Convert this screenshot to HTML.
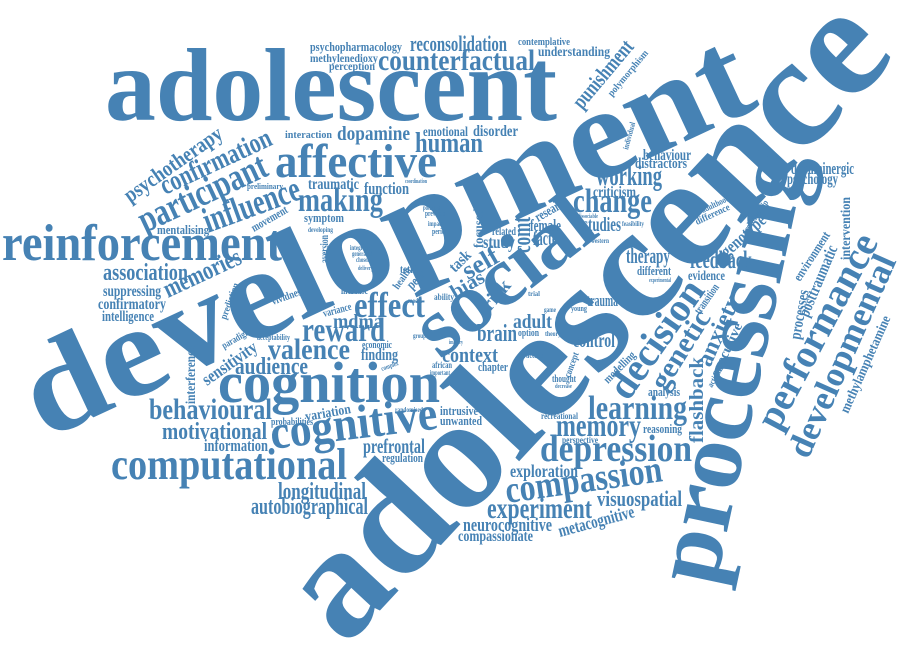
<!DOCTYPE html>
<html>
<head>
<meta charset="utf-8">
<style>
  html,body{margin:0;padding:0;background:#fff;}
  svg{display:block;}
  text{font-family:"Liberation Serif","DejaVu Serif",serif;font-weight:bold;fill:#4682b4;}
</style>
</head>
<body>
<svg width="900" height="648" viewBox="0 0 900 648" xmlns="http://www.w3.org/2000/svg">
<g>
<text transform="translate(105 120)" font-size="104" textLength="452" lengthAdjust="spacingAndGlyphs">adolescent</text>
<text transform="translate(45 440) rotate(-25)" font-size="130" textLength="790" lengthAdjust="spacingAndGlyphs">development</text>
<text transform="translate(345 648) rotate(-47)" font-size="158" textLength="810" lengthAdjust="spacingAndGlyphs">adolescence</text>
<text transform="translate(715 588) rotate(-78)" font-size="97" textLength="440" lengthAdjust="spacingAndGlyphs">processing</text>
<text transform="translate(440 360) rotate(-38)" font-size="85" textLength="205" lengthAdjust="spacingAndGlyphs">social</text>
<text transform="translate(218 402)" font-size="58" textLength="222" lengthAdjust="spacingAndGlyphs">cognition</text>
<text transform="translate(2 260)" font-size="52" textLength="280" lengthAdjust="spacingAndGlyphs">reinforcement</text>
<text transform="translate(111 479)" font-size="44" textLength="236" lengthAdjust="spacingAndGlyphs">computational</text>
<text transform="translate(275 177)" font-size="48" textLength="162" lengthAdjust="spacingAndGlyphs">affective</text>
<text transform="translate(272 449) rotate(-7)" font-size="48" textLength="168" lengthAdjust="spacingAndGlyphs">cognitive</text>
<text transform="translate(540 461)" font-size="38" textLength="152" lengthAdjust="spacingAndGlyphs">depression</text>
<text transform="translate(507 503) rotate(-8)" font-size="38" textLength="158" lengthAdjust="spacingAndGlyphs">compassion</text>
<text transform="translate(778 432) rotate(-62)" font-size="40" textLength="215" lengthAdjust="spacingAndGlyphs">performance</text>
<text transform="translate(808 460) rotate(-66)" font-size="35" textLength="218" lengthAdjust="spacingAndGlyphs">developmental</text>
<text transform="translate(628 402) rotate(-55)" font-size="40" textLength="136" lengthAdjust="spacingAndGlyphs">decision</text>
<text transform="translate(145 233) rotate(-25)" font-size="38" textLength="138" lengthAdjust="spacingAndGlyphs">participant</text>
<text transform="translate(208 233) rotate(-20)" font-size="36" textLength="101" lengthAdjust="spacingAndGlyphs">influence</text>
</g>
<g>
<text transform="translate(378 70)" font-size="30" textLength="157" lengthAdjust="spacingAndGlyphs">counterfactual</text>
<text transform="translate(410 51)" font-size="22" textLength="97" lengthAdjust="spacingAndGlyphs">reconsolidation</text>
<text transform="translate(310 51)" font-size="13" textLength="92" lengthAdjust="spacingAndGlyphs">psychopharmacology</text>
<text transform="translate(310 62)" font-size="12" textLength="68" lengthAdjust="spacingAndGlyphs">methylenedioxy</text>
<text transform="translate(329 70)" font-size="12" textLength="46" lengthAdjust="spacingAndGlyphs">perception</text>
<text transform="translate(518 45)" font-size="10" textLength="52" lengthAdjust="spacingAndGlyphs">contemplative</text>
<text transform="translate(538 56)" font-size="14" textLength="72" lengthAdjust="spacingAndGlyphs">understanding</text>
<text transform="translate(285 138)" font-size="11" textLength="47" lengthAdjust="spacingAndGlyphs">interaction</text>
<text transform="translate(337 140)" font-size="20" textLength="73" lengthAdjust="spacingAndGlyphs">dopamine</text>
<text transform="translate(423 136)" font-size="14" textLength="45" lengthAdjust="spacingAndGlyphs">emotional</text>
<text transform="translate(473 136)" font-size="16" textLength="45" lengthAdjust="spacingAndGlyphs">disorder</text>
<text transform="translate(415 152)" font-size="28" textLength="68" lengthAdjust="spacingAndGlyphs">human</text>
<text transform="translate(308 189)" font-size="16" textLength="51" lengthAdjust="spacingAndGlyphs">traumatic</text>
<text transform="translate(364 194)" font-size="17" textLength="45" lengthAdjust="spacingAndGlyphs">function</text>
<text transform="translate(298 211)" font-size="34" textLength="85" lengthAdjust="spacingAndGlyphs">making</text>
<text transform="translate(304 222)" font-size="13" textLength="40" lengthAdjust="spacingAndGlyphs">symptom</text>
<text transform="translate(247 189)" font-size="8" textLength="36" lengthAdjust="spacingAndGlyphs">preliminary</text>
<text transform="translate(157 234)" font-size="13" textLength="52" lengthAdjust="spacingAndGlyphs">mentalising</text>
<text transform="translate(103 280)" font-size="24" textLength="85" lengthAdjust="spacingAndGlyphs">association</text>
<text transform="translate(103 296)" font-size="16" textLength="58" lengthAdjust="spacingAndGlyphs">suppressing</text>
<text transform="translate(98 309)" font-size="16" textLength="68" lengthAdjust="spacingAndGlyphs">confirmatory</text>
<text transform="translate(102 321)" font-size="15" textLength="52" lengthAdjust="spacingAndGlyphs">intelligence</text>
<text transform="translate(354 317)" font-size="36" textLength="71" lengthAdjust="spacingAndGlyphs">effect</text>
<text transform="translate(333 328)" font-size="20" textLength="50" lengthAdjust="spacingAndGlyphs">mdma</text>
<text transform="translate(302 341)" font-size="34" textLength="83" lengthAdjust="spacingAndGlyphs">reward</text>
<text transform="translate(268 359)" font-size="30" textLength="82" lengthAdjust="spacingAndGlyphs">valence</text>
<text transform="translate(235 374)" font-size="24" textLength="73" lengthAdjust="spacingAndGlyphs">audience</text>
<text transform="translate(149 419)" font-size="30" textLength="123" lengthAdjust="spacingAndGlyphs">behavioural</text>
<text transform="translate(162 439)" font-size="24" textLength="105" lengthAdjust="spacingAndGlyphs">motivational</text>
<text transform="translate(204 451)" font-size="17" textLength="64" lengthAdjust="spacingAndGlyphs">information</text>
<text transform="translate(278 499)" font-size="24" textLength="88" lengthAdjust="spacingAndGlyphs">longitudinal</text>
<text transform="translate(251 514)" font-size="24" textLength="117" lengthAdjust="spacingAndGlyphs">autobiographical</text>
<text transform="translate(363 453)" font-size="21" textLength="62" lengthAdjust="spacingAndGlyphs">prefrontal</text>
<text transform="translate(382 462)" font-size="13" textLength="41" lengthAdjust="spacingAndGlyphs">regulation</text>
<text transform="translate(271 425)" font-size="11" textLength="42" lengthAdjust="spacingAndGlyphs">probabilities</text>
<text transform="translate(361 360)" font-size="17" textLength="37" lengthAdjust="spacingAndGlyphs">finding</text>
<text transform="translate(362 348)" font-size="10" textLength="30" lengthAdjust="spacingAndGlyphs">economic</text>
<text transform="translate(588 419)" font-size="34" textLength="99" lengthAdjust="spacingAndGlyphs">learning</text>
<text transform="translate(556 436)" font-size="32" textLength="85" lengthAdjust="spacingAndGlyphs">memory</text>
<text transform="translate(643 433)" font-size="13" textLength="39" lengthAdjust="spacingAndGlyphs">reasoning</text>
<text transform="translate(562 443)" font-size="9" textLength="36" lengthAdjust="spacingAndGlyphs">perspective</text>
<text transform="translate(541 419)" font-size="9" textLength="37" lengthAdjust="spacingAndGlyphs">recreational</text>
<text transform="translate(510 477)" font-size="18" textLength="68" lengthAdjust="spacingAndGlyphs">exploration</text>
<text transform="translate(487 518)" font-size="30" textLength="105" lengthAdjust="spacingAndGlyphs">experiment</text>
<text transform="translate(597 506)" font-size="22" textLength="85" lengthAdjust="spacingAndGlyphs">visuospatial</text>
<text transform="translate(463 531)" font-size="19" textLength="89" lengthAdjust="spacingAndGlyphs">neurocognitive</text>
<text transform="translate(458 541)" font-size="16" textLength="75" lengthAdjust="spacingAndGlyphs">compassionate</text>
<text transform="translate(560 537) rotate(-15)" font-size="18" textLength="78" lengthAdjust="spacingAndGlyphs">metacognitive</text>
<text transform="translate(648 396)" font-size="13" textLength="32" lengthAdjust="spacingAndGlyphs">analysis</text>
<text transform="translate(573 347)" font-size="20" textLength="42" lengthAdjust="spacingAndGlyphs">control</text>
<text transform="translate(477 341)" font-size="24" textLength="40" lengthAdjust="spacingAndGlyphs">brain</text>
<text transform="translate(442 362)" font-size="22" textLength="56" lengthAdjust="spacingAndGlyphs">context</text>
<text transform="translate(478 371)" font-size="13" textLength="30" lengthAdjust="spacingAndGlyphs">chapter</text>
<text transform="translate(518 336)" font-size="11" textLength="21" lengthAdjust="spacingAndGlyphs">option</text>
<text transform="translate(513 328)" font-size="20" textLength="39" lengthAdjust="spacingAndGlyphs">adult</text>
<text transform="translate(440 415)" font-size="13" textLength="38" lengthAdjust="spacingAndGlyphs">intrusive</text>
<text transform="translate(440 425)" font-size="13" textLength="42" lengthAdjust="spacingAndGlyphs">unwanted</text>
<text transform="translate(643 160)" font-size="16" textLength="48" lengthAdjust="spacingAndGlyphs">behaviour</text>
<text transform="translate(635 168)" font-size="15" textLength="52" lengthAdjust="spacingAndGlyphs">distractors</text>
<text transform="translate(596 185)" font-size="28" textLength="66" lengthAdjust="spacingAndGlyphs">working</text>
<text transform="translate(593 197)" font-size="16" textLength="43" lengthAdjust="spacingAndGlyphs">criticism</text>
<text transform="translate(573 212)" font-size="34" textLength="79" lengthAdjust="spacingAndGlyphs">change</text>
<text transform="translate(583 231)" font-size="20" textLength="38" lengthAdjust="spacingAndGlyphs">studies</text>
<text transform="translate(530 231)" font-size="17" textLength="31" lengthAdjust="spacingAndGlyphs">female</text>
<text transform="translate(533 245)" font-size="20" textLength="30" lengthAdjust="spacingAndGlyphs">factor</text>
<text transform="translate(483 248)" font-size="18" textLength="32" lengthAdjust="spacingAndGlyphs">study</text>
<text transform="translate(492 235)" font-size="12" textLength="24" lengthAdjust="spacingAndGlyphs">related</text>
<text transform="translate(626 263)" font-size="22" textLength="44" lengthAdjust="spacingAndGlyphs">therapy</text>
<text transform="translate(637 275)" font-size="13" textLength="34" lengthAdjust="spacingAndGlyphs">different</text>
<text transform="translate(690 268)" font-size="25" textLength="62" lengthAdjust="spacingAndGlyphs">feedback</text>
<text transform="translate(688 280)" font-size="14" textLength="37" lengthAdjust="spacingAndGlyphs">evidence</text>
<text transform="translate(791 174)" font-size="17" textLength="63" lengthAdjust="spacingAndGlyphs">dopaminergic</text>
<text transform="translate(787 184)" font-size="16" textLength="51" lengthAdjust="spacingAndGlyphs">psychology</text>
<text transform="translate(587 306)" font-size="17" textLength="31" lengthAdjust="spacingAndGlyphs">trauma</text>
<text transform="translate(571 311)" font-size="8" textLength="16" lengthAdjust="spacingAndGlyphs">young</text>
<text transform="translate(400 273)" font-size="12" textLength="20" lengthAdjust="spacingAndGlyphs">tetris</text>
<text transform="translate(341 294)" font-size="12" textLength="27" lengthAdjust="spacingAndGlyphs">increase</text>
<text transform="translate(257 340)" font-size="8" textLength="33" lengthAdjust="spacingAndGlyphs">acceptability</text>
</g>
<g>
<text transform="translate(306 421) rotate(-10)" font-size="14" textLength="46" lengthAdjust="spacingAndGlyphs">variation</text>
<text transform="translate(582 110) rotate(-50)" font-size="22" textLength="82" lengthAdjust="spacingAndGlyphs">punishment</text>
<text transform="translate(612 97) rotate(-50)" font-size="10" textLength="57" lengthAdjust="spacingAndGlyphs">polymorphism</text>
<text transform="translate(628 150) rotate(-75)" font-size="8" textLength="28" lengthAdjust="spacingAndGlyphs">individual</text>
<text transform="translate(727 258) rotate(-42)" font-size="18" textLength="54" lengthAdjust="spacingAndGlyphs">genotype</text>
<text transform="translate(748 232) rotate(-55)" font-size="9" textLength="36" lengthAdjust="spacingAndGlyphs">relationship</text>
<text transform="translate(703 213) rotate(-25)" font-size="9" textLength="30" lengthAdjust="spacingAndGlyphs">adulthood</text>
<text transform="translate(697 225) rotate(-25)" font-size="10" textLength="37" lengthAdjust="spacingAndGlyphs">difference</text>
<text transform="translate(850 260) rotate(-90)" font-size="14" textLength="63" lengthAdjust="spacingAndGlyphs">intervention</text>
<text transform="translate(800 282) rotate(-57)" font-size="13" textLength="56" lengthAdjust="spacingAndGlyphs">environment</text>
<text transform="translate(808 318) rotate(-67)" font-size="17" textLength="76" lengthAdjust="spacingAndGlyphs">posttraumatic</text>
<text transform="translate(800 340) rotate(-80)" font-size="16" textLength="50" lengthAdjust="spacingAndGlyphs">processes</text>
<text transform="translate(538 222) rotate(-30)" font-size="14" textLength="36" lengthAdjust="spacingAndGlyphs">research</text>
<text transform="translate(483 248) rotate(-90)" font-size="14" textLength="40" lengthAdjust="spacingAndGlyphs">focused</text>
<text transform="translate(530 253) rotate(-90)" font-size="26" textLength="36" lengthAdjust="spacingAndGlyphs">comt</text>
<text transform="translate(468 280) rotate(-30)" font-size="26" textLength="38" lengthAdjust="spacingAndGlyphs">self</text>
<text transform="translate(455 273) rotate(-45)" font-size="16" textLength="24" lengthAdjust="spacingAndGlyphs">task</text>
<text transform="translate(455 299) rotate(-30)" font-size="20" textLength="36" lengthAdjust="spacingAndGlyphs">bias</text>
<text transform="translate(490 312) rotate(-50)" font-size="20" textLength="34" lengthAdjust="spacingAndGlyphs">risk</text>
<text transform="translate(130 203) rotate(-35)" font-size="22" textLength="115" lengthAdjust="spacingAndGlyphs">psychotherapy</text>
<text transform="translate(165 195) rotate(-25)" font-size="28" textLength="120" lengthAdjust="spacingAndGlyphs">confirmation</text>
<text transform="translate(254 232) rotate(-30)" font-size="12" textLength="40" lengthAdjust="spacingAndGlyphs">movement</text>
<text transform="translate(168 298) rotate(-25)" font-size="26" textLength="83" lengthAdjust="spacingAndGlyphs">memories</text>
<text transform="translate(207 386) rotate(-35)" font-size="18" textLength="63" lengthAdjust="spacingAndGlyphs">sensitivity</text>
<text transform="translate(224 349) rotate(-30)" font-size="10" textLength="32" lengthAdjust="spacingAndGlyphs">paradigm</text>
<text transform="translate(195 404) rotate(-90)" font-size="14" textLength="58" lengthAdjust="spacingAndGlyphs">interference</text>
<text transform="translate(226 320) rotate(-70)" font-size="10" textLength="38" lengthAdjust="spacingAndGlyphs">prediction</text>
<text transform="translate(273 305) rotate(-20)" font-size="11" textLength="34" lengthAdjust="spacingAndGlyphs">vividness</text>
<text transform="translate(324 317) rotate(-15)" font-size="11" textLength="29" lengthAdjust="spacingAndGlyphs">variance</text>
<text transform="translate(328 263) rotate(-90)" font-size="12" textLength="28" lengthAdjust="spacingAndGlyphs">aversion</text>
<text transform="translate(412 290) rotate(-45)" font-size="14" textLength="20" lengthAdjust="spacingAndGlyphs">peer</text>
<text transform="translate(398 290) rotate(-55)" font-size="11" textLength="24" lengthAdjust="spacingAndGlyphs">health</text>
<text transform="translate(665 392) rotate(-58)" font-size="29" textLength="88" lengthAdjust="spacingAndGlyphs">genetic</text>
<text transform="translate(710 368) rotate(-66)" font-size="24" textLength="75" lengthAdjust="spacingAndGlyphs">anxiety</text>
<text transform="translate(703 443) rotate(-90)" font-size="20" textLength="86" lengthAdjust="spacingAndGlyphs">flashback</text>
<text transform="translate(718 378) rotate(-65)" font-size="14" textLength="58" lengthAdjust="spacingAndGlyphs">executive</text>
<text transform="translate(712 388) rotate(-60)" font-size="9" textLength="30" lengthAdjust="spacingAndGlyphs">activation</text>
<text transform="translate(700 315) rotate(-55)" font-size="12" textLength="34" lengthAdjust="spacingAndGlyphs">transition</text>
<text transform="translate(608 384) rotate(-45)" font-size="12" textLength="40" lengthAdjust="spacingAndGlyphs">modelling</text>
<text transform="translate(848 414) rotate(-66)" font-size="14" textLength="105" lengthAdjust="spacingAndGlyphs">methylamphetamine</text>
</g>
<g>
<text transform="translate(350 250)" font-size="7" textLength="22" lengthAdjust="spacingAndGlyphs">integrated</text>
<text transform="translate(352 256)" font-size="7" textLength="20" lengthAdjust="spacingAndGlyphs">generated</text>
<text transform="translate(356 262)" font-size="7" textLength="14" lengthAdjust="spacingAndGlyphs">chosen</text>
<text transform="translate(358 270)" font-size="6" textLength="15" lengthAdjust="spacingAndGlyphs">delivery</text>
<text transform="translate(423 210)" font-size="7" textLength="18" lengthAdjust="spacingAndGlyphs">potential</text>
<text transform="translate(425 216)" font-size="8" textLength="20" lengthAdjust="spacingAndGlyphs">previous</text>
<text transform="translate(428 226)" font-size="7" textLength="15" lengthAdjust="spacingAndGlyphs">impact</text>
<text transform="translate(432 234)" font-size="8" textLength="16" lengthAdjust="spacingAndGlyphs">period</text>
<text transform="translate(432 368)" font-size="9" textLength="20" lengthAdjust="spacingAndGlyphs">african</text>
<text transform="translate(430 375)" font-size="7" textLength="20" lengthAdjust="spacingAndGlyphs">important</text>
<text transform="translate(523 358)" font-size="8" textLength="20" lengthAdjust="spacingAndGlyphs">vaccine</text>
<text transform="translate(552 382)" font-size="10" textLength="24" lengthAdjust="spacingAndGlyphs">thought</text>
<text transform="translate(555 388)" font-size="6" textLength="17" lengthAdjust="spacingAndGlyphs">decrease</text>
<text transform="translate(570 378) rotate(-70)" font-size="10" textLength="26" lengthAdjust="spacingAndGlyphs">concept</text>
<text transform="translate(545 336)" font-size="7" textLength="16" lengthAdjust="spacingAndGlyphs">theory</text>
<text transform="translate(622 226)" font-size="7" textLength="22" lengthAdjust="spacingAndGlyphs">feasibility</text>
<text transform="translate(578 218)" font-size="6" textLength="20" lengthAdjust="spacingAndGlyphs">dissociable</text>
<text transform="translate(591 243)" font-size="7" textLength="18" lengthAdjust="spacingAndGlyphs">western</text>
<text transform="translate(544 312)" font-size="7" textLength="12" lengthAdjust="spacingAndGlyphs">game</text>
<text transform="translate(528 296)" font-size="7" textLength="12" lengthAdjust="spacingAndGlyphs">trial</text>
<text transform="translate(434 300)" font-size="9" textLength="20" lengthAdjust="spacingAndGlyphs">ability</text>
<text transform="translate(408 303)" font-size="7" textLength="14" lengthAdjust="spacingAndGlyphs">model</text>
<text transform="translate(382 371) rotate(-20)" font-size="7" textLength="18" lengthAdjust="spacingAndGlyphs">complex</text>
<text transform="translate(413 338)" font-size="7" textLength="13" lengthAdjust="spacingAndGlyphs">group</text>
<text transform="translate(395 412)" font-size="7" textLength="28" lengthAdjust="spacingAndGlyphs">randomised</text>
<text transform="translate(308 232)" font-size="7" textLength="25" lengthAdjust="spacingAndGlyphs">developing</text>
<text transform="translate(405 183)" font-size="6" textLength="22" lengthAdjust="spacingAndGlyphs">coordination</text>
<text transform="translate(649 282)" font-size="6" textLength="22" lengthAdjust="spacingAndGlyphs">experimental</text>
<text transform="translate(449 344)" font-size="6" textLength="14" lengthAdjust="spacingAndGlyphs">imagery</text>
</g>
</svg>
</body>
</html>
